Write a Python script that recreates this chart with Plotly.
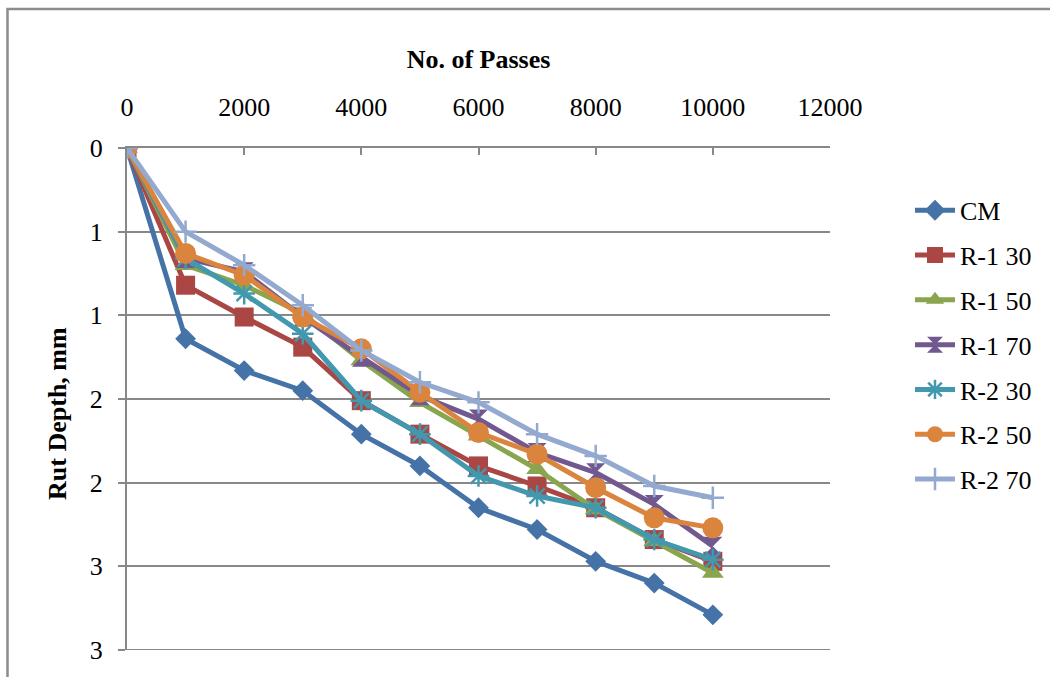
import plotly.graph_objects as go

passes = [0, 1000, 2000, 3000, 4000, 5000, 6000, 7000, 8000, 9000, 10000]

cm      = [0, 1.14, 1.33, 1.45, 1.71, 1.90, 2.15, 2.28, 2.47, 2.60, 2.79]
r1_30   = [0, 0.82, 1.01, 1.19, 1.51, 1.71, 1.90, 2.02, 2.15, 2.34, 2.47]
r1_50   = [0, 0.70, 0.82, 0.99, 1.27, 1.52, 1.72, 1.92, 2.16, 2.35, 2.54]
r1_70   = [0, 0.66, 0.74, 1.01, 1.25, 1.48, 1.62, 1.82, 1.94, 2.13, 2.38]
r2_30   = [0, 0.66, 0.87, 1.11, 1.51, 1.71, 1.96, 2.08, 2.15, 2.34, 2.46]
r2_50   = [0, 0.63, 0.76, 1.01, 1.20, 1.46, 1.70, 1.83, 2.03, 2.21, 2.27]
r2_70   = [0, 0.50, 0.70, 0.94, 1.21, 1.40, 1.52, 1.71, 1.84, 2.02, 2.09]

series_names = ["CM", "R-1 30", "R-1 50", "R-1 70", "R-2 30", "R-2 50", "R-2 70"]
series_vals = [cm, r1_30, r1_50, r1_70, r2_30, r2_50, r2_70]

x_ticks = [0, 2000, 4000, 6000, 8000, 10000, 12000]
y_ticks = [0, 0.5, 1, 1.5, 2, 2.5, 3]
y_ticktext = ["0", "1", "1", "2", "2", "3", "3"]

colors = ["#4572A7", "#AA4643", "#89A54E", "#71588F", "#4198AF", "#DB843D", "#93A9CF"]
symbols = ["diamond", "square", "triangle-up", "hourglass", "asterisk-open", "circle", "cross-thin-open"]
sizes = [16, 19, 19, 19, 18, 21, 16]

FONT = "Liberation Serif, Times New Roman, serif"
GRAY = "#888888"

fig = go.Figure()
for i, (name, vals) in enumerate(zip(series_names, series_vals)):
    sym = symbols[i]
    open_sym = sym.endswith("open")
    fig.add_trace(go.Scatter(
        x=passes, y=vals, name=name, mode="lines+markers",
        legendgroup=name,
        line=dict(color=colors[i], width=5),
        marker=dict(symbol=sym, size=sizes[i], color=colors[i],
                    line=dict(color=colors[i], width=2.5 if open_sym else 0)),
    ))

# plot area in pixels
L, R, T, B = 127, 830, 148, 652
W, H = 1050, 677

def px_x(p):
    return (p - L) / (R - L)

def px_y(p):
    return (B - p) / (B - T)

fig.update_layout(
    width=W, height=H,
    margin=dict(l=L, r=W - R, t=T, b=H - B),
    paper_bgcolor="white", plot_bgcolor="white",
    font=dict(family=FONT, size=26, color="black"),
    showlegend=True,
    legend=dict(x=px_x(910), y=px_y(187), xanchor="left", yanchor="top",
                font=dict(family=FONT, size=26, color="black"),
                itemwidth=40,
                tracegroupgap=8, bgcolor="rgba(0,0,0,0)"),
    xaxis=dict(
        side="top", range=[0, 12000], tickvals=x_ticks, tickformat="d",
        ticks="inside", ticklen=7, tickwidth=2, tickcolor=GRAY,
        showline=True, linecolor=GRAY, linewidth=2,
        showgrid=False, zeroline=False,
        tickfont=dict(family=FONT, size=26, color="black"),
        ticklabelstandoff=20,
        title=dict(text="<b>No. of Passes</b>", font=dict(family=FONT, size=26, color="black"), standoff=16),
    ),
    yaxis=dict(
        range=[3, 0], autorange=False, tickvals=y_ticks, ticktext=y_ticktext,
        ticks="outside", ticklen=7, tickwidth=2, tickcolor=GRAY,
        showline=True, linecolor=GRAY, linewidth=2,
        showgrid=True, gridcolor=GRAY, gridwidth=2, zeroline=False,
        tickfont=dict(family=FONT, size=26, color="black"),
        ticklabelstandoff=10,
    ),
    annotations=[dict(
        text="<b>Rut Depth, mm</b>", textangle=-90,
        xref="paper", yref="paper", x=px_x(58), y=px_y(415),
        xanchor="center", yanchor="middle", showarrow=False,
        font=dict(family=FONT, size=26, color="black"),
    )],
    shapes=[
        dict(type="rect", xref="paper", yref="paper",
             x0=px_x(7.5), x1=px_x(W + 20), y0=px_y(H + 20), y1=px_y(8.5),
             line=dict(color="#8c8c8c", width=2.5), fillcolor="rgba(0,0,0,0)", layer="below"),
        # bottom gridline at the last y tick (plotly omits the grid line on the range edge)
        dict(type="line", xref="paper", yref="y", x0=0, x1=1, y0=y_ticks[-1], y1=y_ticks[-1],
             line=dict(color=GRAY, width=2), layer="below"),
    ],
)

fig.write_html("out.html")
